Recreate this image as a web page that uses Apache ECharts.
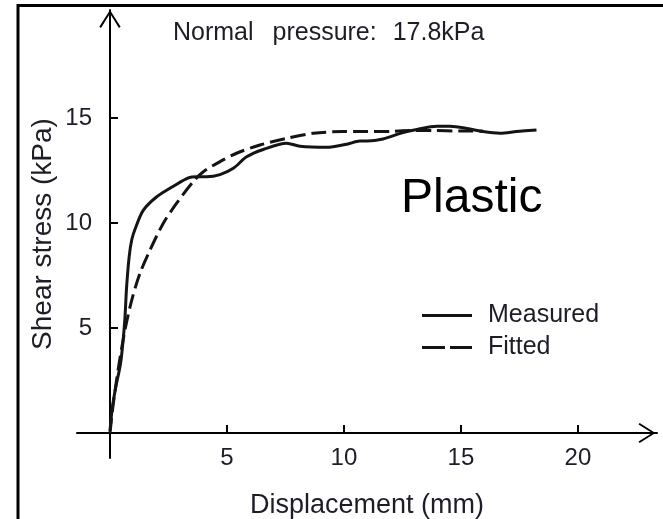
<!DOCTYPE html>
<html>
<head>
<meta charset="utf-8">
<script src="https://cdn.jsdelivr.net/npm/echarts@6/dist/echarts.min.js"></script>
<style>
  html, body { margin: 0; padding: 0; background: #fff; }
  #chart { width: 663px; height: 519px; }
</style>
</head>
<body>
<div id="chart"></div>
<script>
// Shear test at normal pressure 17.8 kPa: displacement (mm) vs shear stress (kPa)
const measuredX = [0, 0.1, 0.25, 0.45, 0.56, 0.64, 0.71, 0.82, 0.93, 1.07, 1.42, 2.0, 2.71, 3.35, 3.71, 4.13, 4.7, 5.27, 5.84, 6.55, 7.55, 8.12, 9.26, 10.12, 10.68, 11.0, 11.67, 12.52, 13.12, 13.97, 14.53, 15.26, 15.94, 16.67, 17.38, 18.23];
const measuredY = [0.1, 1.2, 2.2, 3.3, 4.4, 5.5, 6.95, 8.4, 9.2, 9.7, 10.6, 11.25, 11.75, 12.15, 12.2, 12.2, 12.3, 12.6, 13.15, 13.5, 13.8, 13.65, 13.6, 13.75, 13.9, 13.9, 14.0, 14.3, 14.45, 14.6, 14.6, 14.5, 14.35, 14.27, 14.35, 14.43];

const fittedX = [0, 0.13, 0.38, 0.64, 0.93, 1.28, 1.71, 2.28, 2.85, 3.56, 3.99, 4.7, 5.41, 6.41, 7.55, 8.69, 9.97, 10.97, 11.97, 12.82, 13.8, 14.96, 15.94];
const fittedY = [0, 1.3, 3.24, 4.9, 6.33, 7.6, 8.71, 9.99, 10.94, 11.97, 12.44, 12.92, 13.32, 13.71, 14.03, 14.27, 14.35, 14.35, 14.36, 14.4, 14.4, 14.38, 14.38];

const xTicks = [5, 10, 15, 20];
const yTicks = [5, 10, 15];

const seriesNames = ['Measured', 'Fitted'];
const zoneLabel = 'Plastic';

const pairs = (xs, ys) => xs.map((x, i) => [x, ys[i]]);

const FONT = '"Liberation Sans", Arial, sans-serif';
const INK = '#1d1d28';
const LINE = '#141414';

// open chevron used as the arrow head on both axes (tip at the top)
const chevron = 'path://M11,0 L22,17.4 L20.3,18.6 L11,3.6 L1.7,18.6 L0,17.4 Z';
// legend keys: a solid bar and a two-dash bar
const solidKey = 'path://M0,0 H50 V3 H0 Z';
const dashKey = 'path://M0,0 H23 V3 H0 Z M28,0 H50 V3 H28 Z';

const chart = echarts.init(document.getElementById('chart'), null, { renderer: 'canvas' });

const titleSeg = { fontFamily: FONT, fontSize: 25, fontWeight: 'normal', color: INK };

chart.setOption({
  backgroundColor: '#fff',
  animation: false,
  title: [
    {
      text: '{a|Normal }{b|pressure: }{c|17.8kPa}',
      left: 173, top: 21, padding: 0,
      textStyle: {
        fontWeight: 'normal',
        rich: {
          a: Object.assign({ padding: [0, 12, 0, 0] }, titleSeg),
          b: Object.assign({ padding: [0, 9, 0, 0] }, titleSeg),
          c: titleSeg
        }
      }
    },
    {
      text: zoneLabel,
      left: 401, top: 175, padding: 0,
      textStyle: { fontFamily: FONT, fontSize: 48, fontWeight: 'normal', color: '#000' }
    }
  ],
  graphic: [
    {
      type: 'polyline',
      shape: { points: [[18, 530], [18, 5.5], [680, 5.5]] },
      style: { stroke: '#000', lineWidth: 3, fill: null },
      silent: true
    }
  ],
  legend: {
    data: [
      { name: seriesNames[0], icon: solidKey },
      { name: seriesNames[1], icon: dashKey }
    ],
    orient: 'vertical',
    left: 422, top: 303, padding: 0,
    itemWidth: 50, itemHeight: 14, itemGap: 7,
    textStyle: { fontFamily: FONT, fontSize: 25, color: INK, padding: [0, 0, 0, 11] }
  },
  grid: { left: 77, right: 6, top: 10, bottom: 61, containLabel: false, outerBoundsMode: 'none' },
  xAxis: {
    type: 'value',
    min: -1.41, max: 23.38,
    name: 'Displacement (mm)',
    nameLocation: 'middle',
    nameGap: 34,
    nameMoveOverlap: false,
    nameTextStyle: { fontFamily: FONT, fontSize: 27, color: INK },
    axisLine: {
      show: true, onZero: true,
      lineStyle: { color: '#000', width: 2 },
      symbol: ['none', chevron],
      symbolSize: [20, 20],
      symbolOffset: [0, -10]
    },
    axisTick: { show: true, inside: true, length: 8, lineStyle: { color: '#000', width: 2 }, customValues: xTicks },
    axisLabel: { fontFamily: FONT, fontSize: 24, color: INK, margin: -12, customValues: xTicks },
    splitLine: { show: false }
  },
  yAxis: {
    type: 'value',
    min: -1.19, max: 20.14,
    name: 'Shear stress (kPa)',
    nameLocation: 'middle',
    nameGap: 20,
    nameMoveOverlap: false,
    nameTextStyle: { fontFamily: FONT, fontSize: 28, color: INK },
    axisLine: {
      show: true, onZero: true,
      lineStyle: { color: '#000', width: 2 },
      symbol: ['none', chevron],
      symbolSize: [22, 18],
      symbolOffset: [0, -9]
    },
    axisTick: { show: true, inside: true, length: 8, lineStyle: { color: '#000', width: 2 }, customValues: yTicks },
    axisLabel: { fontFamily: FONT, fontSize: 24, color: INK, margin: -15, customValues: yTicks },
    splitLine: { show: false }
  },
  series: [
    {
      name: seriesNames[0],
      type: 'line',
      data: pairs(measuredX, measuredY),
      smooth: 0.3,
      symbol: 'none',
      showSymbol: false,
      lineStyle: { color: LINE, width: 3 },
      itemStyle: { color: LINE }
    },
    {
      name: seriesNames[1],
      type: 'line',
      data: pairs(fittedX, fittedY),
      smooth: 0.3,
      symbol: 'none',
      showSymbol: false,
      lineStyle: { color: LINE, width: 3, type: [15, 6] },
      itemStyle: { color: LINE }
    }
  ]
});
</script>
</body>
</html>
